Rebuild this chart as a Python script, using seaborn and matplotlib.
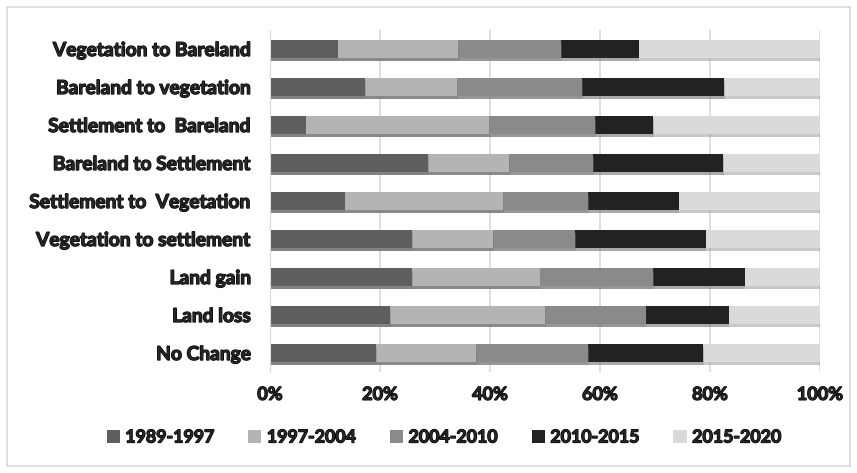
import numpy as np
import pandas as pd
import seaborn as sns
import matplotlib.pyplot as plt
from matplotlib.patches import Patch, Rectangle
import matplotlib.patheffects as pe

categories = [
    "Vegetation to Bareland",
    "Bareland to vegetation",
    "Settlement to  Bareland",
    "Bareland to Settlement",
    "Settlement to  Vegetation",
    "Vegetation to settlement",
    "Land gain",
    "Land loss",
    "No Change",
]
periods = ["1989-1997", "1997-2004", "2004-2010", "2010-2015", "2015-2020"]

p1989_1997 = [12.3, 17.3, 6.5, 28.8, 13.6, 25.9, 25.9, 21.8, 19.3]
p1997_2004 = [21.9, 16.7, 33.4, 14.7, 28.8, 14.7, 23.1, 28.2, 18.2]
p2004_2010 = [18.7, 22.8, 19.2, 15.3, 15.4, 14.9, 20.7, 18.3, 20.3]
p2010_2015 = [14.1, 25.8, 10.6, 23.6, 16.5, 23.7, 16.6, 15.1, 21.0]
p2015_2020 = [33.0, 17.4, 30.3, 17.6, 25.7, 20.8, 13.7, 16.6, 21.2]

colors = ["#5f5f5f", "#b4b4b4", "#8a8a8a", "#222222", "#dadada"]

sns.set_style("white")
plt.rcParams["font.family"] = ["Lato", "DejaVu Sans"]
# a thin outline gives the labels a heavier, black weight
heavy = [pe.withStroke(linewidth=0.9, foreground="black")]

df = pd.DataFrame(
    {p: v for p, v in zip(periods, [p1989_1997, p1997_2004, p2004_2010, p2010_2015, p2015_2020])},
    index=categories,
)
# normalise each row to 100 %
pct = df.div(df.sum(axis=1), axis=0) * 100
cum = pct.cumsum(axis=1)

fig = plt.figure(figsize=(8.57, 4.73), dpi=100)
ax = fig.add_axes([270 / 857, 1 - 372 / 473, 550 / 857, 342 / 473])

shadow = [pe.SimplePatchShadow(offset=(0.5, -2.2), shadow_rgbFace="#7a7a7a", alpha=0.4), pe.Normal()]

# draw cumulative layers from the widest to the narrowest so they stack
for period, color in reversed(list(zip(periods, colors))):
    layer = pd.DataFrame({"category": categories, "value": cum[period].values})
    sns.barplot(data=layer, x="value", y="category", color=color, width=0.46,
                saturation=1, ax=ax, orient="h", order=categories)

for bar in ax.patches:
    bar.set_path_effects(shadow)
    bar.set_edgecolor("none")

ax.set_xlim(0, 100)
ax.set_ylim(len(categories) - 0.5, -0.5)
ax.set_xticks([0, 20, 40, 60, 80, 100])
ax.set_xticklabels([f"{t}%" for t in [0, 20, 40, 60, 80, 100]])
ax.xaxis.grid(True, color="#d9d9d9", linewidth=1.2)
ax.set_axisbelow(True)
for s in ax.spines.values():
    s.set_visible(False)
ax.spines["left"].set_visible(True)
ax.spines["left"].set_color("#d9d9d9")
ax.set_xlabel("")
ax.set_ylabel("")
ax.tick_params(axis="y", length=0, pad=14)
ax.tick_params(axis="x", length=0, pad=10)
for lbl in ax.get_yticklabels():
    lbl.set_fontweight("bold")
    lbl.set_fontsize(13.8)
    lbl.set_path_effects(heavy)
for lbl in ax.get_xticklabels():
    lbl.set_fontweight("bold")
    lbl.set_fontsize(13)
    lbl.set_path_effects(heavy)

handles = [Patch(facecolor=c, edgecolor="none") for c in colors]
leg = fig.legend(handles, periods, loc="center", bbox_to_anchor=(444 / 857, 1 - 437 / 473), ncol=5,
                 frameon=False, handlelength=0.75, handleheight=0.75, handletextpad=0.3,
                 columnspacing=1.9, prop={"weight": "bold", "size": 12.8})
for t in leg.get_texts():
    t.set_path_effects(heavy)

fig.patches.append(Rectangle((7 / 857, 7 / 473), 843 / 857, 459 / 473, transform=fig.transFigure,
                             fill=False, edgecolor="#d9d9d9", linewidth=1.2))

fig.savefig("out.png", dpi=100, facecolor="white")
